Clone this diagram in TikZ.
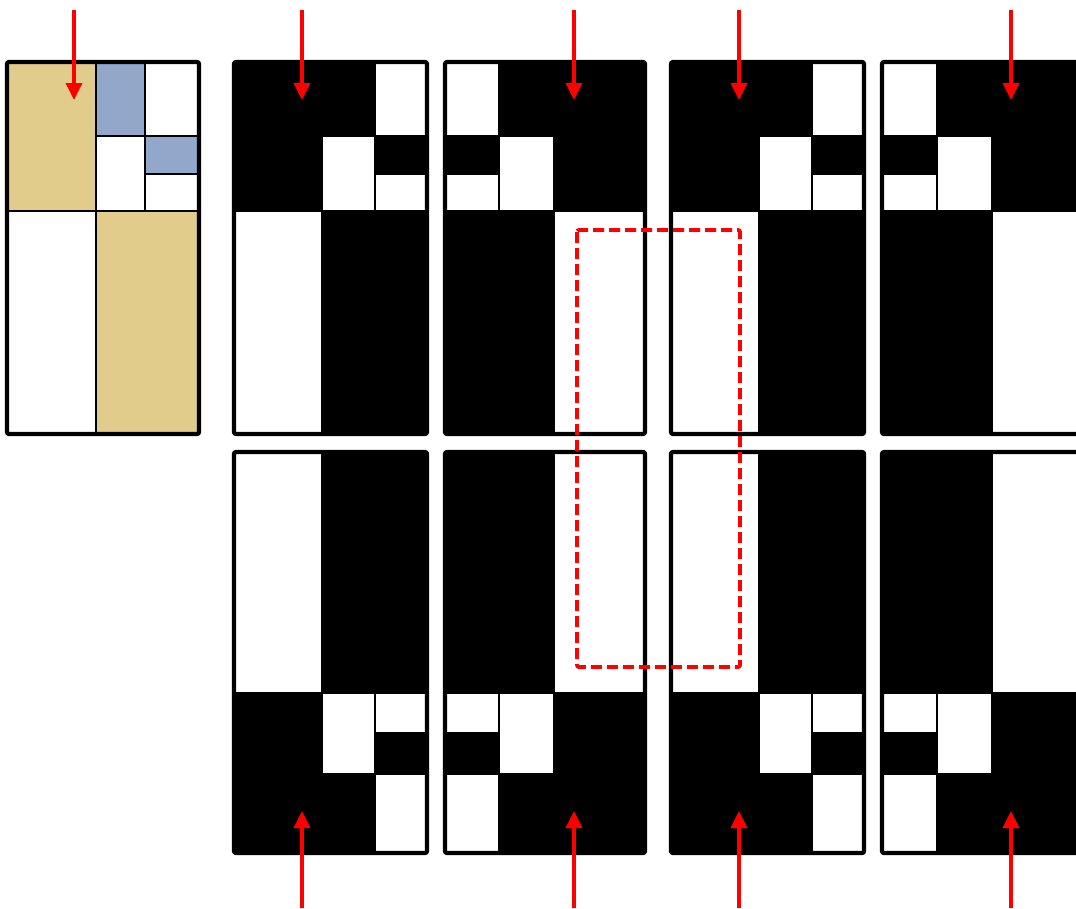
\documentclass[tikz,border=0pt]{standalone}
\usetikzlibrary{arrows.meta}
\definecolor{mytan}{RGB}{226,204,140}
\definecolor{myblue}{RGB}{145,168,203}
\tikzset{
  cell/.style={draw=black, line width=2pt},
  frame/.style={draw=black, line width=4.2pt, rounded corners=2pt},
  redarrow/.style={draw=red, line width=3.6pt, -{Triangle[width=16pt,length=17pt]}},
  dashbox/.style={draw=red, line width=3.8pt, dash pattern=on 11pt off 5pt, rounded corners=2pt}
}
\newcommand{\blackpanel}{%
  \fill[black] (0,0) rectangle (1,1);
  \filldraw[cell, fill=white] (0.73,0) rectangle (1,0.198);
  \filldraw[cell, fill=white] (0.456,0.198) rectangle (0.73,0.4);
  \filldraw[cell, fill=white] (0.73,0.30) rectangle (1,0.4);
  \filldraw[cell, fill=white] (0,0.4) rectangle (0.456,1);
  \draw[frame] (0,0) rectangle (1,1);
}
\begin{document}
\begin{tikzpicture}[x=1pt,y=-1pt]
\useasboundingbox (0,0) rectangle (1076,908);
\clip (0,0) rectangle (1076,908);
\fill[white] (0,0) rectangle (1076,908);
% panel 1 (coloured)
\begin{scope}[shift={(7,62)}, xscale=192, yscale=372]
  \filldraw[cell, fill=mytan] (0,0) rectangle (0.461,0.4);
  \filldraw[cell, fill=myblue] (0.461,0) rectangle (0.72,0.198);
  \filldraw[cell, fill=white] (0.72,0) rectangle (1,0.198);
  \filldraw[cell, fill=white] (0.461,0.198) rectangle (0.72,0.4);
  \filldraw[cell, fill=myblue] (0.72,0.198) rectangle (1,0.30);
  \filldraw[cell, fill=white] (0.72,0.30) rectangle (1,0.4);
  \filldraw[cell, fill=white] (0,0.4) rectangle (0.461,1);
  \filldraw[cell, fill=mytan] (0.461,0.4) rectangle (1,1);
  \draw[frame] (0,0) rectangle (1,1);
\end{scope}
% top row
\begin{scope}[shift={(234,62)}, xscale=193, yscale=372]\blackpanel\end{scope}
\begin{scope}[shift={(645,62)}, xscale=-200, yscale=372]\blackpanel\end{scope}
\begin{scope}[shift={(671,62)}, xscale=193, yscale=372]\blackpanel\end{scope}
\begin{scope}[shift={(1084,62)}, xscale=-202, yscale=372]\blackpanel\end{scope}
% bottom row
\begin{scope}[shift={(234,853)}, xscale=193, yscale=-401]\blackpanel\end{scope}
\begin{scope}[shift={(645,853)}, xscale=-200, yscale=-401]\blackpanel\end{scope}
\begin{scope}[shift={(671,853)}, xscale=193, yscale=-401]\blackpanel\end{scope}
\begin{scope}[shift={(1084,853)}, xscale=-202, yscale=-401]\blackpanel\end{scope}
% dashed box
\draw[dashbox] (577,230) rectangle (740,667);
% arrows
\coordinate (t1s) at (74,10);   \coordinate (t1e) at (74,100);
\coordinate (t2s) at (302,10);  \coordinate (t2e) at (302,100);
\coordinate (t3s) at (574,10);  \coordinate (t3e) at (574,100);
\coordinate (t4s) at (739,10);  \coordinate (t4e) at (739,100);
\coordinate (t5s) at (1011,10); \coordinate (t5e) at (1011,100);
\coordinate (b2s) at (302,908);  \coordinate (b2e) at (302,811);
\coordinate (b3s) at (574,908);  \coordinate (b3e) at (574,811);
\coordinate (b4s) at (739,908);  \coordinate (b4e) at (739,811);
\coordinate (b5s) at (1011,908); \coordinate (b5e) at (1011,811);
\foreach \a in {t1,t2,t3,t4,t5,b2,b3,b4,b5}{
  \draw[redarrow] (\a s) -- (\a e);
}
\end{tikzpicture}
\end{document}
